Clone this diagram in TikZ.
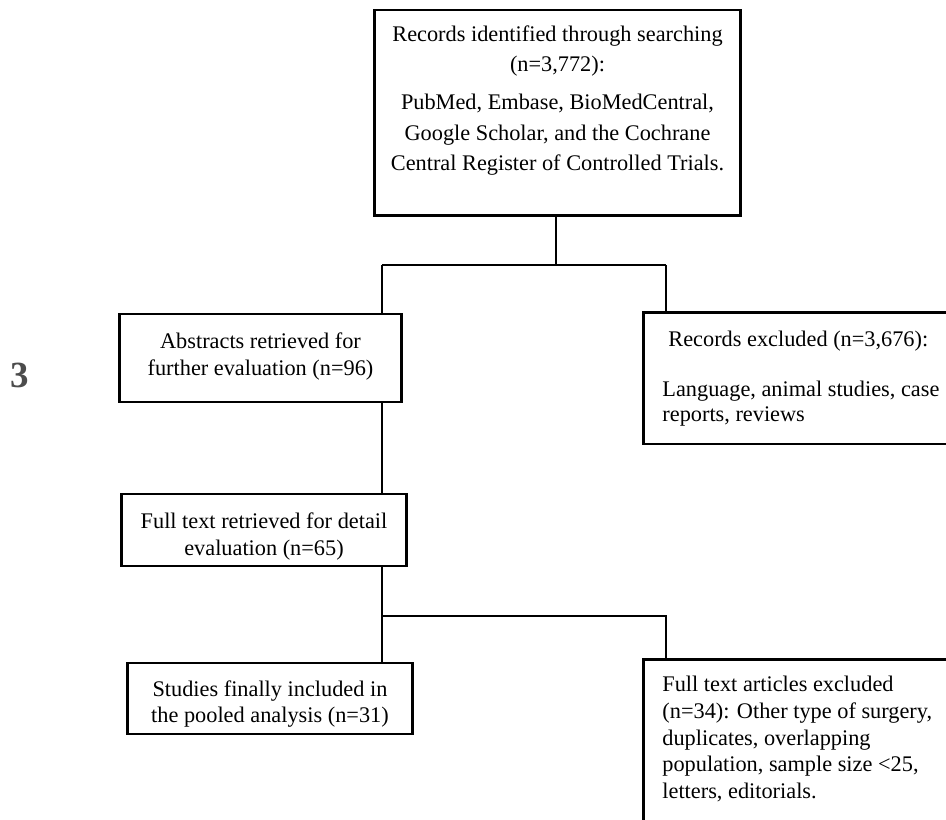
\documentclass[tikz,border=0pt]{standalone}
\usepackage{fontspec}
\setmainfont{Liberation Serif}
\usepackage{tikz}

% text block of a box: width, height, top gap, line skip, alignment, lines
\newcommand{\boxtext}[6]{\parbox[c][#2][t]{#1}{\fontsize{12.7}{#4}\selectfont#5\vspace*{#3}\strut #6}}

\begin{document}
\begin{tikzpicture}[
        x=0.02cm, y=-0.02cm,
        flowbox/.style={draw, line width=1.4pt, inner sep=0pt},
        link/.style={draw, line width=0.7pt},
        numlabel/.style={text=black!70, font=\fontsize{21}{21}\selectfont\bfseries}
    ]

    % -- Cadre de l'image --
    \path[use as bounding box] (0,0) rectangle (946,820);
    \clip (0,0) rectangle (946,820);

    % -- Position des boites --
    \node[flowbox] (src) at (557.5,113)
        {\boxtext{7.33cm}{4.11cm}{0.2cm}{17.2pt}{\centering}{%
            Records identified through searching\\
            (n=3,772):\\[0.16cm]
            PubMed, Embase, BioMedCentral,\\
            Google Scholar, and the Cochrane\\
            Central Register of Controlled Trials.}};

    \node[flowbox] (abs) at (260.5,358)
        {\boxtext{5.65cm}{1.75cm}{0.31cm}{15.3pt}{\centering}{%
            Abstracts retrieved for\\
            further evaluation (n=96)}};

    \node[flowbox, anchor=north west] (exc1) at (642.2,311.2)
        {\boxtext{6.36cm}{2.63cm}{0.33cm}{14.2pt}{\raggedright\leftskip=0.38cm}{%
            \hspace*{0.12cm}Records excluded (n=3,676):\\[0.5cm]
            Language, animal studies, case\\
            reports, reviews}};

    \node[flowbox] (full) at (264,530)
        {\boxtext{5.71cm}{1.43cm}{0.3cm}{15.6pt}{\centering}{%
            Full text retrieved for detail\\
            evaluation (n=65)}};

    \node[flowbox] (incl) at (270,698.5)
        {\boxtext{5.71cm}{1.41cm}{0.28cm}{15.3pt}{\centering}{%
            Studies finally included in\\
            the pooled analysis (n=31)}};

    \node[flowbox, anchor=north west] (exc2) at (642.2,658.2)
        {\boxtext{6.36cm}{4cm}{0.26cm}{15.3pt}{\raggedright\leftskip=0.38cm}{%
            Full text articles excluded\\
            (n=34): Other type of surgery,\\
            duplicates, overlapping\\
            population, sample size <25,\\
            letters, editorials.}};

    \node[numlabel] (num) at (20,375) {3};

    % -- Points de branchement --
    \coordinate (split1) at (556,265);
    \coordinate (left1)  at (382,265);
    \coordinate (right1) at (666,265);
    \coordinate (split2) at (382,616);
    \coordinate (right2) at (666,616);

    % -- Position des traits --
    % src -> abs, exc1 :
    \draw[link] (split1 |- src.south) -- (split1);
    \draw[link] (left1) -- (right1);
    \draw[link] (left1) -- (left1 |- abs.north);
    \draw[link] (right1) -- (right1 |- exc1.north);

    % abs -> full :
    \draw[link] (left1 |- abs.south) -- (left1 |- full.north);

    % full -> incl, exc2 :
    \draw[link] (split2 |- full.south) -- (split2 |- incl.north);
    \draw[link] (split2) -- (right2) -- (right2 |- exc2.north);

\end{tikzpicture}
\end{document}
